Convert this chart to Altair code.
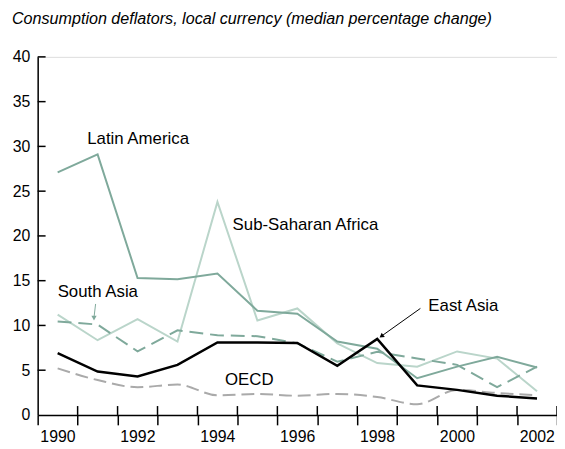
import altair as alt
import pandas as pd

# ---- data ----
years = list(range(1990, 2003))
latin_america = [27.1, 29.1, 15.3, 15.15, 15.8, 11.65, 11.3, 8.2, 7.4, 4.1, 5.4, 6.5, 5.3]
sub_saharan = [11.2, 8.35, 10.7, 8.2, 23.8, 10.55, 11.9, 8.0, 5.8, 5.4, 7.1, 6.3, 2.65]
south_asia = [10.45, 10.1, 7.1, 9.45, 8.9, 8.8, 8.0, 5.95, 7.05, 6.3, 5.6, 3.1, 5.4]
east_asia = [6.9, 4.85, 4.3, 5.6, 8.1, 8.1, 8.05, 5.5, 8.5, 3.3, 2.8, 2.15, 1.85]
oecd = [5.2, 3.9, 3.1, 3.4, 2.2, 2.35, 2.15, 2.35, 2.0, 1.2, 2.8, 2.45, 2.2]

x_ticks = list(range(1990, 2004))
y_ticks = list(range(0, 41, 5))

ann_text = ["Latin America", "Sub-Saharan Africa", "South Asia", "East Asia", "OECD"]
ann_x = [1991.24, 1994.88, 1990.5, 1999.78, 1994.69]
ann_y = [30.8, 21.2, 13.75, 12.2, 3.93]

arrow_x = [1991.45, 1999.58]
arrow_y = [12.4, 11.9]
arrow_x2 = [1991.41, 1998.62]
arrow_y2 = [10.9, 8.85]
arrow_angle = [180, 233]
arrow_color = ["#7fa99b", "black"]

TITLE = "Consumption deflators, local currency (median percentage change)"
FONT = "Liberation Sans"
W, H = 525, 362

# ---- tables ----
series = {
    "Latin America": latin_america,
    "Sub-Saharan Africa": sub_saharan,
    "South Asia": south_asia,
    "East Asia": east_asia,
    "OECD": oecd,
}
rows = []
for name, vals in series.items():
    for yr, v in zip(years, vals):
        rows.append({"year": yr, "series": name, "value": v})
df = pd.DataFrame(rows)

ann_df = pd.DataFrame({"text": ann_text, "x": ann_x, "y": ann_y})
arrow_df = pd.DataFrame({"x": arrow_x, "y": arrow_y, "x2": arrow_x2, "y2": arrow_y2,
                         "angle": arrow_angle, "color": arrow_color})
xt_df = pd.DataFrame({"tick": x_ticks[1:]})
yt_df = pd.DataFrame({"tick": y_ticks[1:]})

x_scale = alt.Scale(domain=[1990, 2003], nice=False, zero=False)
y_scale = alt.Scale(domain=[0, 40], nice=False)

x_axis = alt.Axis(
    values=x_ticks, format="d",
    labelExpr="datum.value % 2 == 0 && datum.value < 2003 ? datum.label : ''",
    labelOffset=20, labelOverlap=False, labelFlush=False,
    tickSize=10, tickWidth=1.5, tickColor="black",
    domainColor="black", domainWidth=1.5,
    labelFont=FONT, labelFontSize=16, labelColor="black", labelPadding=4,
    grid=False, title=None,
)
y_axis = alt.Axis(
    values=y_ticks, ticks=False,
    domainColor="black", domainWidth=1.5,
    labelFont=FONT, labelFontSize=16, labelColor="black", labelPadding=8,
    grid=False, title=None,
)


def X(field):
    return alt.X(field, type="quantitative", scale=x_scale, axis=x_axis)


def Y(field):
    return alt.Y(field, type="quantitative", scale=y_scale, axis=y_axis)


base = alt.Chart(df).transform_calculate(xpos="datum.year + 0.5")

styles = [
    ("OECD", "#aaaaaa", 2, [13, 6], "monotone"),
    ("Sub-Saharan Africa", "#bad5ca", 2, None, "linear"),
    ("South Asia", "#7fa99b", 2, [14, 7], "linear"),
    ("Latin America", "#7fa99b", 2, None, "linear"),
    ("East Asia", "black", 2.5, None, "linear"),
]

layers = []
for name, color, width, dash, interp in styles:
    kw = dict(color=color, strokeWidth=width, interpolate=interp)
    if dash:
        kw["strokeDash"] = dash
    layers.append(
        base.transform_filter(alt.datum.series == name)
        .mark_line(**kw)
        .encode(x=X("xpos"), y=Y("value"))
    )

x_up_ticks = alt.Chart(xt_df).mark_rule(color="black", strokeWidth=1.5).encode(
    x=X("tick"), y=alt.value(H - 9), y2=alt.value(H)
)
y_in_ticks = alt.Chart(yt_df).mark_rule(color="black", strokeWidth=1.5).encode(
    y=Y("tick"), x=alt.value(0), x2=alt.value(8)
)

labels = alt.Chart(ann_df).mark_text(
    align="left", baseline="middle", font=FONT, fontSize=17, color="black"
).encode(x=X("x"), y=Y("y"), text="text:N")

arrow_lines = alt.Chart(arrow_df).mark_rule(strokeWidth=1).encode(
    x=X("x"), y=Y("y"), x2="x2:Q", y2="y2:Q",
    color=alt.Color("color:N", scale=None),
)
arrow_heads = alt.Chart(arrow_df).mark_point(
    shape="triangle", filled=True, size=28, opacity=1
).encode(
    x=X("x2"), y=Y("y2"),
    angle=alt.Angle("angle:Q", scale=None),
    color=alt.Color("color:N", scale=None),
)

chart = alt.layer(
    *layers, x_up_ticks, y_in_ticks, labels, arrow_lines, arrow_heads
).properties(
    width=W, height=H,
    autosize=alt.AutoSizeParams(type="none"),
    padding={"left": 30, "top": 47, "right": 0, "bottom": 32},
    title=alt.TitleParams(
        TITLE, anchor="start", frame="group", dx=-26, offset=22,
        fontStyle="italic", fontWeight="normal", fontSize=16.3,
        font=FONT, color="black",
    ),
).configure_view(stroke=None).configure(background="white")

chart.save("out.html", embed_options={"renderer": "svg", "actions": False})
